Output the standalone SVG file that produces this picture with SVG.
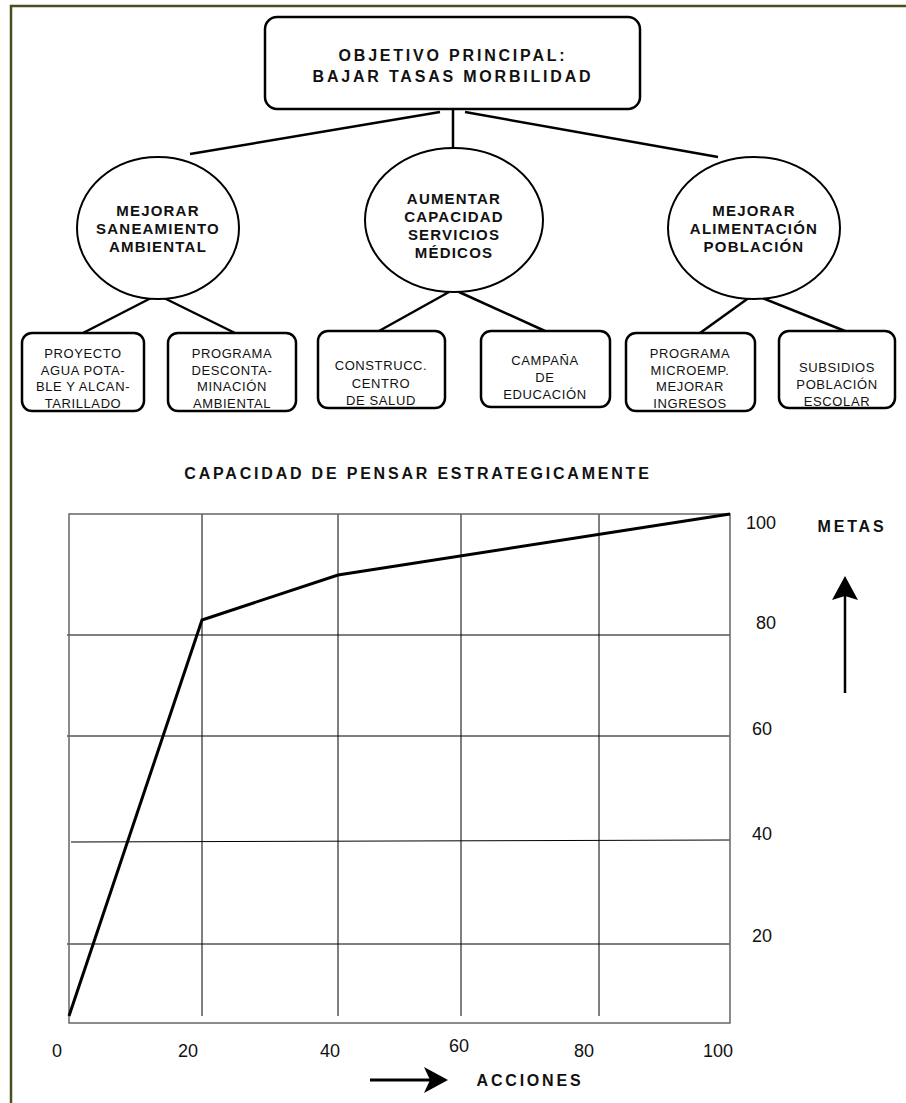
<svg xmlns="http://www.w3.org/2000/svg" width="906" height="1103" viewBox="0 0 906 1103">
<style>
.b{font-family:"Liberation Sans",Arial,sans-serif;font-weight:bold;fill:#111;text-anchor:middle}
.h{font-size:16px;letter-spacing:2.8px}
.e{font-size:15px;letter-spacing:1.2px}
.s{font-family:"Liberation Sans",Arial,sans-serif;font-size:13px;letter-spacing:0.6px;fill:#111;text-anchor:middle}
.ax{font-family:"Liberation Sans",Arial,sans-serif;font-size:18px;fill:#111}
.node{fill:#fff;stroke:#000;stroke-width:2.5}
.ell{fill:#fff;stroke:#000;stroke-width:2}
.con{stroke:#000;stroke-width:2.5;fill:none}
.grid{stroke:#000;stroke-width:1;fill:none}
.frame{stroke:#4e4e1c;stroke-width:2.5;fill:none}
</style>
<rect width="906" height="1103" fill="#fff"/>
<path class="frame" d="M11,1103 V6 H906"/>

<g id="connectors">
<line class="con" x1="440" y1="112" x2="190" y2="154"/>
<line class="con" x1="465" y1="112" x2="718" y2="157"/>
<line class="con" x1="453" y1="109" x2="453" y2="148"/>
<line class="con" x1="153" y1="297" x2="83" y2="333"/>
<line class="con" x1="162" y1="297" x2="235" y2="333"/>
<line class="con" x1="449" y1="292" x2="379" y2="331"/>
<line class="con" x1="459" y1="292" x2="545" y2="331"/>
<line class="con" x1="750" y1="297" x2="700" y2="333"/>
<line class="con" x1="760" y1="297" x2="845" y2="331"/>
</g>

<g id="objetivo">
<rect class="node" x="265" y="17" width="375" height="92" rx="12"/>
<text class="b h" x="453" y="61">OBJETIVO PRINCIPAL:</text>
<text class="b h" x="453" y="82">BAJAR TASAS MORBILIDAD</text>
</g>

<g id="saneamiento">
<ellipse class="ell" cx="158" cy="228" rx="81" ry="71"/>
<text class="b e" x="158" y="216">MEJORAR</text>
<text class="b e" x="158" y="234">SANEAMIENTO</text>
<text class="b e" x="158" y="252">AMBIENTAL</text>
</g>
<g id="servicios">
<ellipse class="ell" cx="454" cy="220" rx="89" ry="72"/>
<text class="b e" x="454" y="204">AUMENTAR</text>
<text class="b e" x="454" y="222">CAPACIDAD</text>
<text class="b e" x="454" y="240">SERVICIOS</text>
<text class="b e" x="454" y="258">MÉDICOS</text>
</g>
<g id="alimentacion">
<ellipse class="ell" cx="754" cy="228" rx="86" ry="71"/>
<text class="b e" x="754" y="216">MEJORAR</text>
<text class="b e" x="754" y="234">ALIMENTACIÓN</text>
<text class="b e" x="754" y="252">POBLACIÓN</text>
</g>

<g id="proyecto">
<rect class="node" x="22" y="333" width="122" height="78" rx="10"/>
<text class="s" x="83" y="358">PROYECTO</text>
<text class="s" x="83" y="375">AGUA POTA-</text>
<text class="s" x="83" y="391">BLE Y ALCAN-</text>
<text class="s" x="83" y="408">TARILLADO</text>
</g>
<g id="descontaminacion">
<rect class="node" x="168" y="333" width="128" height="78" rx="10"/>
<text class="s" x="232" y="358">PROGRAMA</text>
<text class="s" x="232" y="375">DESCONTA-</text>
<text class="s" x="232" y="391">MINACIÓN</text>
<text class="s" x="232" y="408">AMBIENTAL</text>
</g>
<g id="construcc">
<rect class="node" x="318" y="331" width="127" height="77" rx="10"/>
<text class="s" x="381" y="370">CONSTRUCC.</text>
<text class="s" x="381" y="388">CENTRO</text>
<text class="s" x="381" y="405">DE SALUD</text>
</g>
<g id="campana">
<rect class="node" x="481" y="331" width="129" height="76" rx="10"/>
<text class="s" x="545" y="365">CAMPAÑA</text>
<text class="s" x="545" y="382">DE</text>
<text class="s" x="545" y="399">EDUCACIÓN</text>
</g>
<g id="microemp">
<rect class="node" x="626" y="333" width="129" height="78" rx="10"/>
<text class="s" x="690" y="358">PROGRAMA</text>
<text class="s" x="690" y="375">MICROEMP.</text>
<text class="s" x="690" y="391">MEJORAR</text>
<text class="s" x="690" y="408">INGRESOS</text>
</g>
<g id="subsidios">
<rect class="node" x="779" y="331" width="116" height="77" rx="10"/>
<text class="s" x="837" y="372">SUBSIDIOS</text>
<text class="s" x="837" y="389">POBLACIÓN</text>
<text class="s" x="837" y="406">ESCOLAR</text>
</g>

<g id="chart">
<text class="b h" x="418" y="479">CAPACIDAD DE PENSAR ESTRATEGICAMENTE</text>
<line class="grid" x1="202" y1="514" x2="202" y2="1016"/>
<line class="grid" x1="338" y1="514" x2="338" y2="1016"/>
<line class="grid" x1="461" y1="514" x2="461" y2="1016"/>
<line class="grid" x1="599" y1="514" x2="599" y2="1016"/>
<line class="grid" x1="67" y1="635" x2="730" y2="635"/>
<line class="grid" x1="67" y1="736" x2="730" y2="736"/>
<line class="grid" x1="71" y1="842" x2="730" y2="840"/>
<line class="grid" x1="67" y1="944" x2="730" y2="944" stroke="#555" stroke-width="1.5"/>
<rect x="69" y="514" width="661" height="509" fill="none" stroke="#666" stroke-width="1.5"/>
<polyline points="69,1016 202,620 338,575 730,514" fill="none" stroke="#000" stroke-width="3" stroke-linejoin="miter"/>
<text class="ax" x="746" y="529">100</text>
<text class="ax" x="756" y="629">80</text>
<text class="ax" x="752" y="735">60</text>
<text class="ax" x="752" y="840">40</text>
<text class="ax" x="752" y="942">20</text>
<text class="ax" x="57" y="1057" text-anchor="middle">0</text>
<text class="ax" x="188" y="1057" text-anchor="middle">20</text>
<text class="ax" x="330" y="1057" text-anchor="middle">40</text>
<text class="ax" x="459" y="1052" text-anchor="middle">60</text>
<text class="ax" x="584" y="1057" text-anchor="middle">80</text>
<text class="ax" x="718" y="1057" text-anchor="middle">100</text>
<text class="b h" x="852" y="532">METAS</text>
<text class="b h" x="530" y="1086">ACCIONES</text>
<line x1="845" y1="693" x2="845" y2="596" stroke="#000" stroke-width="2.5"/>
<polygon points="845,576 832,600 845,596 858,600" fill="#000"/>
<line x1="370" y1="1080" x2="430" y2="1080" stroke="#000" stroke-width="3"/>
<polygon points="448,1080 424,1067 430,1080 424,1093" fill="#000"/>
</g>
</svg>
